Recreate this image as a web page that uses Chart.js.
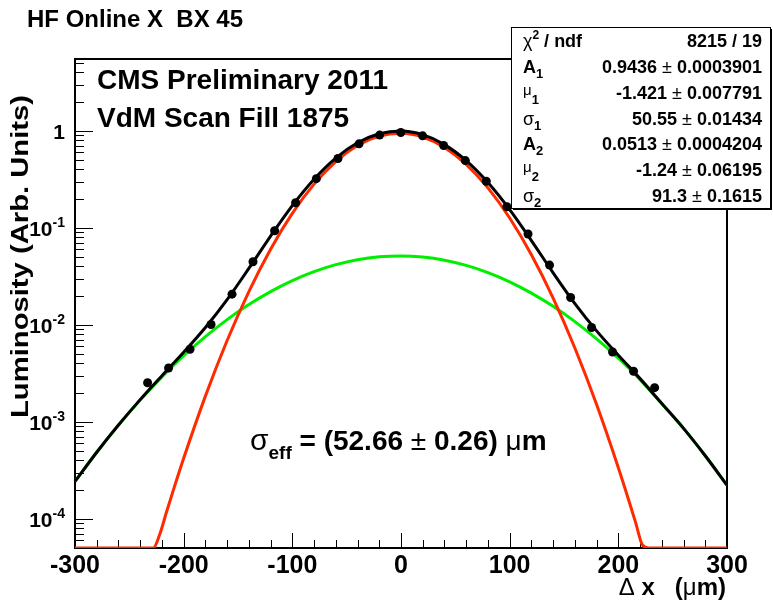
<!DOCTYPE html>
<html><head><meta charset="utf-8">
<script src="https://cdn.jsdelivr.net/npm/chart.js@4.4.1/dist/chart.umd.min.js"></script>
<style>html,body{margin:0;padding:0;background:#fff;}#wrap{width:773px;height:600px;position:relative;}canvas{display:block;}</style>
</head><body><div id="wrap"><canvas id="c" width="773" height="600" style="width:773px;height:600px"></canvas></div>
<script>
// ---- scan data ----
const scanX = [-233.2,-213.9,-194.2,-174.8,-155.5,-136.2,-116.3,-97.0,-77.9,-58.0,-38.6,-19.7,-0.2,19.9,39.2,59.2,78.5,97.5,116.9,136.7,156.1,175.4,194.7,214.0,233.4];
const scanLumi = [2.53e-3,3.59e-3,5.60e-3,1.007e-2,2.07e-2,4.47e-2,9.33e-2,0.1815,0.321,0.518,0.734,0.903,0.96,0.888,0.705,0.493,0.302,0.165,0.0863,0.0413,0.0191,9.37e-3,5.25e-3,3.32e-3,2.25e-3];
// ---- fit curves ----
const fitX = [-300,-280,-260,-240,-220,-200,-180,-160,-140,-120,-100,-80,-60,-40,-20,0,20,40,60,80,100,120,140,160,180,200,220,240,260,280,300];
const totalFit = [2.426e-4,4.853e-4,9.264e-4,1.693e-3,2.989e-3,5.218e-3,9.385e-3,0.018195,0.038184,0.082264,0.169498,0.317241,0.523854,0.75208,0.932198,0.994525,0.9125,0.720825,0.491986,0.292419,0.153831,0.07391,0.034351,0.016547,8.658e-3,4.857e-3,2.787e-3,1.546e-3,8.557e-4,4.464e-4,2.219e-4];
const wideFit = [2.4262e-4,4.8509e-4,9.2449e-4,1.6792e-3,2.9072e-3,4.7973e-3,7.5453e-3,0.011312,0.016164,0.022014,0.028578,0.035361,0.041704,0.046880,0.050228,0.051295,0.049930,0.046325,0.040966,0.034529,0.027741,0.021195,0.015505,0.010786,7.1518e-3,4.5201e-3,2.7229e-3,1.5350e-3,8.5566e-4,4.4635e-4,2.2191e-4];
const coreX = [-300,-228,-222,-216,-210,-200,-180,-160,-140,-120,-100,-80,-60,-40,-20,0,20,40,60,80,100,120,140,160,180,200,210,216,222,228,300];
const coreFit = [5e-5,5e-5,6.92e-5,1.153e-4,1.896e-4,4.205e-4,1.840e-3,6.883e-3,0.02202,0.06025,0.14092,0.28188,0.48215,0.70520,0.88197,0.94323,0.86257,0.67450,0.45102,0.25789,0.12609,0.052715,0.018846,5.761e-3,1.5059e-3,3.366e-4,1.501e-4,9.07e-5,5.41e-5,5e-5,5e-5];
// ---- axis ticks ----
const xTickValues = [-300,-200,-100,0,100,200,300];
const xTickLabels = ['-300','-200','-100','0','100','200','300'];
const yTickValues = [1e-4,1e-3,1e-2,1e-1,1];
const yTickBase = ['10','10','10','10','1'];
const yTickExp = ['-4','-3','-2','-1',''];
// ---- fit statistics ----
const statNames = ['chi2','A1','mu1','sigma1','A2','mu2','sigma2'];
const statValues = ['8215 / 19','0.9436','-1.421','50.55','0.0513','-1.24','91.3'];
const statErrors = ['','0.0003901','0.007791','0.01434','0.0004204','0.06195','0.1615'];
const sigmaEff = '52.66', sigmaEffErr = '0.26';

const FB = '"Liberation Sans", Arial, Helvetica, sans-serif';
function pts(xs, ys){ return xs.map((x,i)=>({x:x,y:ys[i]})); }

function rich(ctx, x, y, parts, align){
  let w = 0;
  parts.forEach(p=>{ ctx.font = p.f; w += ctx.measureText(p.t).width; });
  let cx = align==='right' ? x - w : (align==='center' ? x - w/2 : x);
  parts.forEach(p=>{ ctx.font = p.f; ctx.fillText(p.t, cx, y + (p.dy||0)); cx += ctx.measureText(p.t).width; });
}

const framePlugin = {
  id:'frame',
  beforeDatasetsDraw(chart){
    const ctx = chart.ctx, ca = chart.chartArea, xs = chart.scales.x, ys = chart.scales.y;
    ctx.save();
    ctx.strokeStyle = '#000'; ctx.lineWidth = 1;
    ctx.beginPath();
    for (let v=-300; v<=300; v+=20){
      const px = Math.round(xs.getPixelForValue(v))+0.5;
      const len = (v%100===0)?15:8;
      ctx.moveTo(px, ca.bottom); ctx.lineTo(px, ca.bottom-len);
    }
    for (let e=-5; e<=0; e++){
      for (let m=1; m<=9; m++){
        const v = m*Math.pow(10,e);
        if (v < ys.min || v > ys.max) continue;
        const py = Math.round(ys.getPixelForValue(v))+0.5;
        const len = m===1?18:9;
        ctx.moveTo(ca.left, py); ctx.lineTo(ca.left+len, py);
      }
    }
    ctx.stroke();
    ctx.lineWidth = 2;
    ctx.strokeRect(ca.left, ca.top, ca.right-ca.left, ca.bottom-ca.top);
    ctx.restore();
  },
  afterDraw(chart){
    const ctx = chart.ctx, ca = chart.chartArea, ys = chart.scales.y;
    ctx.save();
    ctx.fillStyle = '#000'; ctx.textBaseline = 'alphabetic';
    // y tick labels
    yTickValues.forEach((v,i)=>{
      const py = ys.getPixelForValue(v);
      const parts = [{t:yTickBase[i], f:'bold 21px '+FB, dy:0}];
      if (yTickExp[i]) parts.push({t:yTickExp[i], f:'bold 14px '+FB, dy:-9});
      rich(ctx, ca.left-10, py+8, parts, 'right');
    });
    // title
    ctx.font = 'bold 24px '+FB; ctx.fillText('HF Online X  BX 45', 27, 27);
    // CMS labels
    ctx.font = 'bold 28px '+FB;
    ctx.fillText('CMS Preliminary 2011', 97, 89);
    ctx.fillText('VdM Scan Fill 1875', 97, 127);
    // axis titles
    rich(ctx, 726, 595, [{t:'\u0394',f:'24px '+FB},{t:' x   (',f:'bold 24px '+FB},{t:'\u03bc',f:'24px '+FB},{t:'m)',f:'bold 24px '+FB}], 'right');
    ctx.save(); ctx.translate(28, 95); ctx.rotate(-Math.PI/2);
    ctx.font = 'bold 24px '+FB; ctx.textAlign='right';
    const tw = ctx.measureText('Luminosity (Arb. Units)').width;
    ctx.scale(323/tw, 1);
    ctx.fillText('Luminosity (Arb. Units)', 0, 0);
    ctx.restore();
    // sigma eff
    rich(ctx, 250, 450, [
      {t:'\u03c3', f:'30px '+FB},
      {t:'eff', f:'bold 19px '+FB, dy:9},
      {t:' = ('+sigmaEff+' ', f:'bold 28px '+FB},
      {t:'\u00b1', f:'28px '+FB},
      {t:' '+sigmaEffErr+') ', f:'bold 28px '+FB},
      {t:'\u03bc', f:'28px '+FB},
      {t:'m', f:'bold 28px '+FB}], 'left');
    // stats box
    const bx=511.5, by=27.5, bw=259, bh=181;
    ctx.fillStyle='#000'; ctx.fillRect(bx+1.5, by+1.5, bw, bh);
    ctx.fillStyle='#fff'; ctx.fillRect(bx, by, bw, bh);
    ctx.strokeStyle='#000'; ctx.lineWidth=1; ctx.strokeRect(bx, by, bw, bh);
    ctx.fillStyle='#000';
    const rowH = bh/7;
    const sub = (s)=>({t:s, f:'bold 13px '+FB, dy:5});
    const labels = [
      [{t:'\u03c7',f:'18px '+FB},{t:'2',f:'bold 12px '+FB,dy:-8},{t:' / ndf',f:'bold 18px '+FB}],
      [{t:'A',f:'bold 18px '+FB}, sub('1')],
      [{t:'\u03bc',f:'15px '+FB,dy:-4}, sub('1')],
      [{t:'\u03c3',f:'18px '+FB}, sub('1')],
      [{t:'A',f:'bold 18px '+FB}, sub('2')],
      [{t:'\u03bc',f:'15px '+FB,dy:-4}, sub('2')],
      [{t:'\u03c3',f:'18px '+FB}, sub('2')]
    ];
    statNames.forEach((n,i)=>{
      const yb = by + rowH*(i+0.5) + 6.5;
      rich(ctx, 523, yb, labels[i], 'left');
      const parts = [{t:statValues[i], f:'bold 18px '+FB}];
      if (statErrors[i]) { parts.push({t:' \u00b1 ', f:'18px '+FB}); parts.push({t:statErrors[i], f:'bold 18px '+FB}); }
      rich(ctx, 762, yb, parts, 'right');
    });
    ctx.restore();
  }
};

new Chart(document.getElementById('c'), {
  type:'scatter',
  data:{ datasets:[
    {label:'data', data:pts(scanX, scanLumi), showLine:false, pointRadius:4.5, pointBackgroundColor:'#000', pointBorderColor:'#000', pointBorderWidth:0, order:0},
    {label:'total', data:pts(fitX, totalFit), showLine:true, borderColor:'#000', borderWidth:3, pointRadius:0, cubicInterpolationMode:'monotone', order:1},
    {label:'core', data:pts(coreX, coreFit), showLine:true, borderColor:'#ff2a00', borderWidth:3, pointRadius:0, cubicInterpolationMode:'monotone', order:2},
    {label:'wide', data:pts(fitX, wideFit), showLine:true, borderColor:'#00ee00', borderWidth:3, pointRadius:0, cubicInterpolationMode:'monotone', order:3}
  ]},
  options:{
    responsive:false, animation:false, devicePixelRatio:1,
    layout:{padding:{left:0, right:46, top:59, bottom:0}},
    plugins:{legend:{display:false}, tooltip:{enabled:false}},
    scales:{
      x:{type:'linear', min:-300, max:300,
         afterBuildTicks:(s)=>{ s.ticks = xTickValues.map(v=>({value:v})); },
         afterFit:(s)=>{ s.height = 52; },
         ticks:{autoSkip:false, maxRotation:0, padding:3, color:'#000', font:{family:FB, size:25, weight:'bold'},
                callback:(v)=>{ const k = xTickValues.indexOf(v); return k>=0 ? xTickLabels[k] : ''; }},
         grid:{display:false, drawTicks:false}, border:{display:false}},
      y:{type:'logarithmic', min:5e-5, max:5.5,
         afterFit:(s)=>{ s.width = 75; },
         ticks:{display:false}, grid:{display:false, drawTicks:false}, border:{display:false}}
    }
  },
  plugins:[framePlugin]
});
</script></body></html>
